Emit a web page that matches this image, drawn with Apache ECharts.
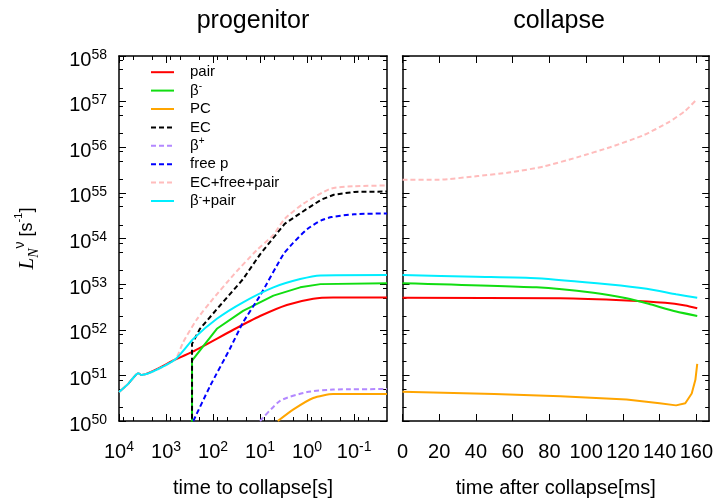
<!DOCTYPE html>
<html>
<head>
<meta charset="utf-8">
<script src="https://cdn.jsdelivr.net/npm/echarts@6/dist/echarts.min.js"></script>
<style>
html, body { margin: 0; padding: 0; background: #fff; }
#main { width: 716px; height: 503px; }
</style>
</head>
<body>
<div id="main"></div>
<script>
// ---- progenitor phase: time to collapse [s] vs luminosity [1/s] ----
var earlyT = [1e4, 6300, 3900, 3300, 650];
var earlyL = [4.3e50, 6.6e50, 1.12e51, 1.02e51, 2.2e51];

var pairT = earlyT.concat([270, 37, 10, 2.7, 0.74, 0.28, 0.02]);
var pairL = earlyL.concat([3.3e51, 1.0e52, 2.0e52, 3.5e52, 4.8e52, 5.1e52, 5.1e52]);

var betaMinusT = [280, 280, 158, 83, 23, 5.2, 1.4, 0.52, 0.02];
var betaMinusL = [1e49, 2.1e51, 4.5e51, 1.05e52, 2.6e52, 5.6e52, 8.5e52, 1.0e53, 1.05e53];

var pcT = [4.2, 1.95, 0.74, 0.28, 0.02];
var pcL = [1e50, 1.8e50, 3.2e50, 3.9e50, 3.9e50];

var ecT = [280, 280, 190, 71, 23, 10, 3.0, 1.0, 0.5, 0.27, 0.1, 0.02];
var ecL = [1e49, 4.9e51, 1.05e52, 3.4e52, 1.29e53, 4.5e53, 2.1e54, 4.5e54, 7.1e54, 9.1e54, 1.05e55, 1.07e55];

var betaPlusT = [10, 3.7, 1.0, 0.28, 0.02];
var betaPlusL = [1e50, 2.8e50, 4.3e50, 4.9e50, 5.0e50];

var freePT = [263, 115, 44, 23, 10, 3.2, 2.0, 1.0, 0.5, 0.3, 0.1, 0.02];
var freePL = [1e50, 5.9e50, 3.8e51, 1.45e52, 5.6e52, 4.5e53, 7.9e53, 1.6e54, 2.5e54, 2.95e54, 3.4e54, 3.55e54];

var sumT = earlyT.concat([430, 224, 115, 37, 11.7, 5.2, 3.0, 1.2, 0.32, 0.1, 0.02]);
var sumL = earlyL.concat([5.4e51, 1.66e52, 4.0e52, 1.58e53, 5.6e53, 1.2e54, 2.7e54, 5.8e54, 1.23e55, 1.4e55, 1.45e55]);

var betaPairT = earlyT.concat([263, 83, 23, 5.2, 1.4, 0.52, 0.02]);
var betaPairL = earlyL.concat([6.3e51, 1.74e52, 4.0e52, 8.5e52, 1.29e53, 1.55e53, 1.58e53]);

// ---- collapse phase: time after collapse [ms] ----
var pairMs = [0, 86, 122, 143, 154, 160.5];
var pairC = [5.0e52, 4.9e52, 4.4e52, 3.9e52, 3.4e52, 2.95e52];

var betaMinusMs = [0, 73, 104, 122, 134, 149, 160.5];
var betaMinusC = [1.05e53, 8.5e52, 6.5e52, 4.9e52, 3.7e52, 2.5e52, 2.0e52];

var pcMs = [0, 50, 86, 122, 140, 149, 154, 157.5, 159.5, 160.5];
var pcC = [4.4e50, 3.9e50, 3.5e50, 2.95e50, 2.45e50, 2.2e50, 2.45e50, 4.0e50, 8.0e50, 1.78e51];

var sumMs = [0, 20, 41, 59, 77, 95, 113, 131, 145, 154, 160.5];
var sumC = [1.95e55, 1.95e55, 2.34e55, 2.82e55, 3.8e55, 6.0e55, 1.0e56, 1.82e56, 3.55e56, 6.3e56, 1.15e57];

var betaPairMs = [0, 40, 73, 113, 133, 149, 160.5];
var betaPairC = [1.58e53, 1.45e53, 1.35e53, 9.8e52, 7.9e52, 6.0e52, 5.0e52];

// ---- ticks ----
var timeTicks = [1e4, 1e3, 1e2, 1e1, 1, 0.1];
var timeMinor = [8000, 5000, 2000, 800, 500, 200, 80, 50, 20, 8, 5, 2, 0.8, 0.5, 0.2, 0.08, 0.05];
var lumTicks = [1e50, 1e51, 1e52, 1e53, 1e54, 1e55, 1e56, 1e57, 1e58];
var lumMinor = [];
for (var k = 50; k < 58; k++) {
    lumMinor.push(2 * Math.pow(10, k), 5 * Math.pow(10, k), 8 * Math.pow(10, k));
}
var msTicks = [0, 20, 40, 60, 80, 100, 120, 140, 160];

var legendNames = ['pair', 'β-', 'PC', 'EC', 'β+', 'free p', 'EC+free+pair', 'β-+pair'];

var FONT = '"Liberation Sans", Arial, Helvetica, sans-serif';
var SERIF = '"Liberation Serif", "Times New Roman", serif';
var LUM_MAX = 1.000001e58; // a hair above 1e58 so the top label survives rounding

function powLabel(v) {
    return '{b|10}{s|' + Math.round(Math.log10(v)) + '}';
}

var labelRich = {
    b: { fontSize: 20, fontFamily: FONT, color: '#000', lineHeight: 24 },
    s: { fontSize: 14, fontFamily: FONT, color: '#000', lineHeight: 14, verticalAlign: 'top' }
};

function frameAxis(gridIndex, position, type, min, max, ticks, tickLen, withLine, extra) {
    var axis = {
        gridIndex: gridIndex,
        type: type,
        position: position,
        min: min,
        max: max,
        axisLine: { show: withLine, onZero: false, lineStyle: { color: '#000', width: 1.5 } },
        axisTick: { show: true, inside: true, length: tickLen, customValues: ticks, lineStyle: { color: '#000', width: 1 } },
        axisLabel: { show: false },
        splitLine: { show: false }
    };
    if (type === 'log') axis.logBase = 10;
    return Object.assign(axis, extra || {});
}

var xAxes = [
    // left panel
    frameAxis(0, 'bottom', 'log', 0.02, 1e4, timeTicks, 7, true, {
        inverse: true,
        name: 'time to collapse[s]',
        nameLocation: 'middle',
        nameGap: 57,
        nameTextStyle: { fontSize: 20, fontFamily: FONT, color: '#000' },
        axisLabel: { show: true, margin: 19, customValues: timeTicks, formatter: powLabel, rich: labelRich }
    }),
    frameAxis(0, 'bottom', 'log', 0.02, 1e4, timeMinor, 4, false, { inverse: true }),
    frameAxis(0, 'top', 'log', 0.02, 1e4, timeTicks, 7, true, { inverse: true }),
    frameAxis(0, 'top', 'log', 0.02, 1e4, timeMinor, 4, false, { inverse: true }),
    // right panel
    frameAxis(1, 'bottom', 'value', 0, 167, msTicks, 7, true, {
        name: 'time after collapse[ms]',
        nameLocation: 'middle',
        nameGap: 57,
        nameTextStyle: { fontSize: 20, fontFamily: FONT, color: '#000' },
        axisLabel: {
            show: true, margin: 19, customValues: msTicks, rich: labelRich,
            formatter: function (v) { return '{b|' + v + '}'; }
        }
    }),
    frameAxis(1, 'top', 'value', 0, 167, msTicks, 7, true)
];

var yAxes = [
    frameAxis(0, 'left', 'log', 1e50, LUM_MAX, lumTicks, 7, true, {
        name: '{L|L}{N|N}{nu|ν}{t| [s}{e|-1}{t|]}',
        nameLocation: 'middle',
        nameRotate: 90,
        nameGap: 78,
        nameTextStyle: {
            fontSize: 17, fontFamily: FONT, color: '#000',
            rich: {
                L: { fontFamily: SERIF, fontStyle: 'italic', fontSize: 21, lineHeight: 28, color: '#000' },
                N: { fontFamily: SERIF, fontStyle: 'italic', fontSize: 14, lineHeight: 14, verticalAlign: 'bottom', color: '#000' },
                nu: { fontFamily: FONT, fontSize: 14, lineHeight: 14, verticalAlign: 'top', color: '#000' },
                t: { fontFamily: FONT, fontSize: 18, lineHeight: 28, color: '#000' },
                e: { fontFamily: FONT, fontSize: 11, lineHeight: 11, verticalAlign: 'top', color: '#000' }
            }
        },
        axisLabel: { show: true, margin: 12, padding: [8, 0, 0, 0], customValues: lumTicks, formatter: powLabel, rich: labelRich }
    }),
    frameAxis(0, 'left', 'log', 1e50, LUM_MAX, lumMinor, 4, false),
    frameAxis(0, 'right', 'log', 1e50, LUM_MAX, lumTicks, 7, true),
    frameAxis(0, 'right', 'log', 1e50, LUM_MAX, lumMinor, 4, false),
    frameAxis(1, 'left', 'log', 1e50, LUM_MAX, lumTicks, 7, true),
    frameAxis(1, 'left', 'log', 1e50, LUM_MAX, lumMinor, 4, false),
    frameAxis(1, 'right', 'log', 1e50, LUM_MAX, lumTicks, 7, true),
    frameAxis(1, 'right', 'log', 1e50, LUM_MAX, lumMinor, 4, false)
];

function lineSeries(name, xs, ys, axisIndex, color, dashed, smooth) {
    return {
        name: name,
        type: 'line',
        xAxisIndex: axisIndex,
        yAxisIndex: axisIndex,
        symbol: 'none',
        clip: true,
        smooth: smooth ? 0.2 : false,
        data: xs.map(function (x, i) { return [x, ys[i]]; }),
        lineStyle: { color: color, width: 2, type: dashed ? [5, 3] : 'solid' },
        itemStyle: { color: color }
    };
}

var colors = {
    pair: '#ff0000', betaMinus: '#11dd11', pc: '#ffa500', ec: '#000000',
    betaPlus: '#b388ff', freeP: '#0000ff', sum: '#ffbcbc', betaPair: '#00eeff'
};

var series = [
    lineSeries('pair', pairT, pairL, 0, colors.pair, false, true),
    lineSeries('β-', betaMinusT, betaMinusL, 0, colors.betaMinus, false, false),
    lineSeries('PC', pcT, pcL, 0, colors.pc, false, true),
    lineSeries('EC', ecT, ecL, 0, colors.ec, true, false),
    lineSeries('β+', betaPlusT, betaPlusL, 0, colors.betaPlus, true, true),
    lineSeries('free p', freePT, freePL, 0, colors.freeP, true, true),
    lineSeries('EC+free+pair', sumT, sumL, 0, colors.sum, true, true),
    lineSeries('β-+pair', betaPairT, betaPairL, 0, colors.betaPair, false, true),

    lineSeries('pair', pairMs, pairC, 4, colors.pair, false, true),
    lineSeries('β-', betaMinusMs, betaMinusC, 4, colors.betaMinus, false, true),
    lineSeries('PC', pcMs, pcC, 4, colors.pc, false, false),
    lineSeries('EC+free+pair', sumMs, sumC, 4, colors.sum, true, true),
    lineSeries('β-+pair', betaPairMs, betaPairC, 4, colors.betaPair, false, true)
];

var chartDom = document.getElementById('main');
var myChart = echarts.init(chartDom, null, { renderer: 'canvas' });

var option = {
    animation: false,
    backgroundColor: '#fff',
    grid: [
        { left: 119, top: 56, width: 268, height: 366 },
        { left: 402.5, top: 56, width: 309.5, height: 366 }
    ],
    legend: {
        data: legendNames,
        orient: 'vertical',
        left: 150,
        top: 63,
        padding: 0,
        itemWidth: 23,
        itemHeight: 14,
        itemGap: 0,
        itemStyle: { opacity: 0 },
        selectedMode: false,
        formatter: function (name) {
            return name.replace('β-', 'β{s|-}').replace('β+', 'β{s|+}');
        },
        textStyle: {
            fontSize: 15, fontFamily: FONT, color: '#000', lineHeight: 18.4,
            padding: [0, 0, 0, 11],
            rich: {
                s: { fontSize: 10, fontFamily: FONT, color: '#000', lineHeight: 10, verticalAlign: 'top' }
            }
        }
    },
    graphic: [
        {
            type: 'text', x: 253, y: 21,
            style: { text: 'progenitor', fontSize: 25, fontFamily: FONT, fill: '#000', align: 'center', verticalAlign: 'middle' }
        },
        {
            type: 'text', x: 559, y: 21,
            style: { text: 'collapse', fontSize: 25, fontFamily: FONT, fill: '#000', align: 'center', verticalAlign: 'middle' }
        }
    ],
    xAxis: xAxes,
    yAxis: yAxes,
    series: series
};

option && myChart.setOption(option);
</script>
</body>
</html>
